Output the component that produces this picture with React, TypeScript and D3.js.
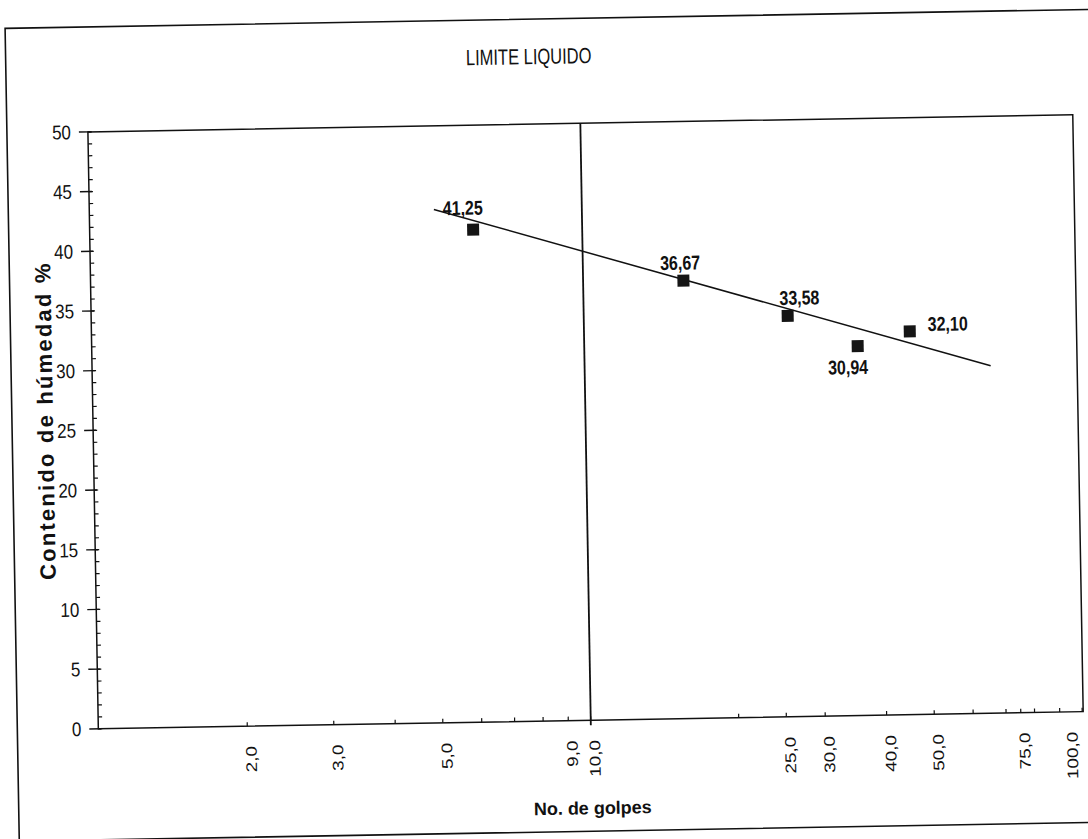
import React from 'react';
import * as d3 from 'd3';

// ---- data ----
const golpes = [6, 16, 26, 36, 46];
const humedad = [41.25, 36.67, 33.58, 30.94, 32.1];
const pointLabels = ['41,25', '36,67', '33,58', '30,94', '32,10'];
const trendGolpes = [5, 67];
const trendHumedad = [43.0, 29.1];
const xTickValues = [2, 3, 5, 9, 10, 25, 30, 40, 50, 75, 100];
const xTickLabels = ['2,0', '3,0', '5,0', '9,0', '10,0', '25,0', '30,0', '40,0', '50,0', '75,0', '100,0'];
const xMinorTicks = [2, 3, 4, 5, 6, 7, 8, 9, 10, 20, 25, 30, 40, 50, 60, 70, 75, 80, 90, 100];
const yTickValues = [0, 5, 10, 15, 20, 25, 30, 35, 40, 45, 50];
const yMinorTicks = d3.range(0, 51, 1);
const chartTitle = 'LIMITE LIQUIDO';
const yTitle = 'Contenido de húmedad %';
const xTitle = 'No. de golpes';
const refLineGolpes = 10;

// ---- layout ----
const W = 1088;
const H = 839;
const plot = { left: 93, right: 1078, top: 124, bottom: 721 };
const labelOffsets: [number, number][] = [[-10, -22], [-3, -18], [12, -18], [-10, 21], [38, -7]];
const FONT = "'Liberation Sans', Arial, sans-serif";

export default function App() {
  const x = d3.scaleLog().domain([1, 100]).range([plot.left + 1, plot.right - 1]);
  const y = d3.scaleLinear().domain([0, 50]).range([plot.bottom, plot.top]);

  const trend = d3
    .line<number>()
    .x((_, i) => x(trendGolpes[i]))
    .y((d) => y(d));

  const tf = (tx: number, ty: number, sx: number, sy = 1, rot = 0) =>
    `translate(${tx},${ty})${rot ? ` rotate(${rot})` : ''} scale(${sx},${sy})`;

  return (
    <svg
      width={W}
      height={H}
      style={{ position: 'absolute', left: 0, top: 0, background: '#fff' }}
      fontFamily={FONT}
    >
      <rect x={0} y={0} width={W} height={H} fill="#fff" />
      <g transform={`rotate(-1, ${W / 2}, ${H / 2})`}>
        {/* outer border */}
        <rect x={12} y={19} width={1090} height={813} fill="none" stroke="#111" strokeWidth={1.6} />

        {/* title */}
        <text transform={tf(535, 64, 0.75)} textAnchor="middle" fontSize={22} fill="#111">
          {chartTitle}
        </text>

        {/* plot frame */}
        <rect
          x={plot.left}
          y={plot.top}
          width={plot.right - plot.left}
          height={plot.bottom - plot.top}
          fill="none"
          stroke="#111"
          strokeWidth={1.5}
        />

        {/* reference line at 10 blows */}
        <line
          x1={x(refLineGolpes)}
          x2={x(refLineGolpes)}
          y1={plot.top}
          y2={plot.bottom + 5}
          stroke="#111"
          strokeWidth={1.8}
        />

        {/* y axis ticks */}
        {yMinorTicks.map((v) => (
          <line key={`ym${v}`} x1={plot.left} x2={plot.left + 4} y1={y(v)} y2={y(v)} stroke="#111" strokeWidth={1.2} />
        ))}
        {yTickValues.map((v) => (
          <g key={`y${v}`}>
            <line x1={plot.left - 9} x2={plot.left + 3} y1={y(v)} y2={y(v)} stroke="#111" strokeWidth={1.4} />
            <text transform={tf(plot.left - 17, y(v) + 7, 0.85)} textAnchor="end" fontSize={20} fill="#111">
              {v}
            </text>
          </g>
        ))}

        {/* x axis ticks */}
        {xMinorTicks.map((v) => (
          <line key={`xm${v}`} x1={x(v)} x2={x(v)} y1={plot.bottom} y2={plot.bottom - 4} stroke="#111" strokeWidth={1.2} />
        ))}
        {xTickValues.map((v, i) => (
          <text
            key={`x${v}`}
            transform={tf(Math.min(x(v) + 9, plot.right - 6), plot.bottom + 20, 1.05, 0.85, -90)}
            textAnchor="end"
            fontSize={18}
            fill="#111"
          >
            {xTickLabels[i]}
          </text>
        ))}

        {/* axis titles */}
        <text
          transform={`translate(53, 412) rotate(-90)`}
          textAnchor="middle"
          fontSize={22}
          fontWeight="bold"
          letterSpacing={2.2}
          fill="#111"
        >
          {yTitle}
        </text>
        <text x={586} y={815} textAnchor="middle" fontSize={18} fontWeight="bold" fill="#111">
          {xTitle}
        </text>

        {/* trend line */}
        <path d={trend(trendHumedad) ?? ''} fill="none" stroke="#111" strokeWidth={1.5} />

        {/* points */}
        {golpes.map((g, i) => (
          <rect key={`p${i}`} x={x(g) - 6} y={y(humedad[i]) - 6} width={12} height={12} fill="#151515" />
        ))}

        {/* point labels */}
        {golpes.map((g, i) => (
          <text
            key={`l${i}`}
            transform={tf(x(g) + labelOffsets[i][0], y(humedad[i]) + labelOffsets[i][1] + 7, 0.8)}
            textAnchor="middle"
            fontSize={20}
            fontWeight="bold"
            fill="#111"
          >
            {pointLabels[i]}
          </text>
        ))}
      </g>
    </svg>
  );
}
